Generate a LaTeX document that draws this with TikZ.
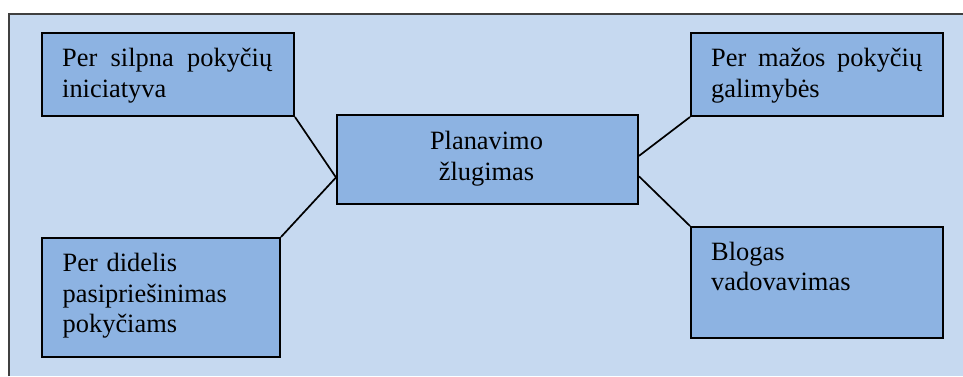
\documentclass[tikz,border=0pt]{standalone}
\usepackage{fontspec}
\setmainfont{Liberation Serif}
\newfontfamily\tnrfont{Liberation Serif}
\usetikzlibrary{calc}
\definecolor{bgblue}{HTML}{C6D9F0}
\definecolor{boxblue}{HTML}{8DB3E2}
\definecolor{framegray}{HTML}{404040}
\tikzset{
  box/.style={draw=black, line width=2pt, fill=boxblue, rectangle, inner sep=0pt, anchor=north west},
  txt/.style={inner sep=0pt, anchor=north west, font=\tnrfont\fontsize{26.4}{30.5}\selectfont, align=left},
  ctxt/.style={inner sep=0pt, anchor=north, font=\tnrfont\fontsize{26.4}{30.5}\selectfont, align=center},
  link/.style={draw=black, line width=1.7pt}
}
\begin{document}
\begin{tikzpicture}[x=1pt,y=-1pt]
\useasboundingbox (0,0) rectangle (963,376);
\fill[bgblue] (9,14) rectangle (963,376);
\draw[framegray, line width=1.6pt] (9,376) -- (9,14) -- (963,14);

\node[box, minimum width=252pt, minimum height=83pt] (tl) at (41,32) {};
\node[box, minimum width=238pt, minimum height=119pt] (bl) at (41,237) {};
\node[box, minimum width=301pt, minimum height=89pt] (c) at (336,114) {};
\node[box, minimum width=252pt, minimum height=83pt] (tr) at (690,32) {};
\node[box, minimum width=252pt, minimum height=111pt] (br) at (690,226) {};

\node[txt, text width=211pt] (tlt) at ([shift={(21,13.3)}]tl.north west) {\strut\hbox to 210pt{Per\hfill silpna\hfill pokyčių}\\\strut iniciatyva};
\node[txt, text width=200pt] (blt) at ([shift={(21.5,13.3)}]bl.north west) {\strut Per didelis\\\strut pasipriešinimas\\\strut pokyčiams};
\node[ctxt, text width=280pt] (ct) at ([shift={(-1,14)}]c.north) {\strut Planavimo\\\strut žlugimas};
\node[txt, text width=211pt] (trt) at ([shift={(21,13.3)}]tr.north west) {\strut\hbox to 211pt{Per\hfill mažos\hfill pokyčių}\\\strut galimybės};
\node[txt, text width=211pt] (brt) at ([shift={(21,12.7)}]br.north west) {\strut Blogas\\\strut vadovavimas};

\coordinate (cl) at ($(c.south west)!0.303!(c.north west)$);
\coordinate (cr1) at ($(c.south east)!0.54!(c.north east)$);
\coordinate (cr2) at ($(c.south east)!0.315!(c.north east)$);

\draw[link] (tl.south east) -- (cl);
\draw[link] (bl.north east) -- (cl);
\draw[link] (cr1) -- (tr.south west);
\draw[link] (cr2) -- (br.north west);
\end{tikzpicture}
\end{document}
